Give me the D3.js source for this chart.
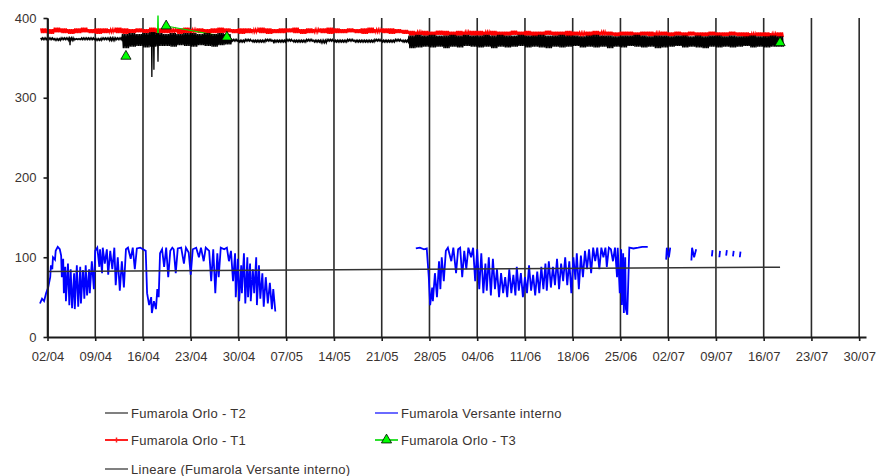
<!DOCTYPE html>
<html>
<head>
<meta charset="utf-8">
<script src="https://cdn.jsdelivr.net/npm/d3@7"></script>
<style>
  body { margin: 0; background: #fff; }
  text { font-family: "Liberation Sans", Arial, sans-serif; }
</style>
</head>
<body>
<div id="chart-area"></div>
<script>
// all days are counted from 02/04
const startDate = Date.UTC(2007, 3, 2);
const weekLabels = ["02/04", "09/04", "16/04", "23/04", "30/04", "07/05", "14/05", "21/05", "28/05",
    "04/06", "11/06", "18/06", "25/06", "02/07", "09/07", "16/07", "23/07", "30/07"];
const yTicks = [0, 100, 200, 300, 400];

// Fumarola Orlo - T1: daily max / min, day -1 .. 107
const t1FirstDay = -1;
const t1Hi = [387,386,388,387,386,387,388,386,387,387, 386,388,387,386,387,386,388,387,387,386,
    387,388,386,387,386,387,388,387,386,387, 387,386,388,387,386,387,387,388,386,387,
    386,387,388,387,386,387,386,387,388,386, 387,387,386,385,
    384,383,384,383,384,384,383,384,383,384, 384,383,384,383,383,384,383,384,383,383,
    384,383,383,384,383,382,383,384,383,383, 382,383,383,382,383,383,382,383,382,383,
    382,383,382,382,383,382,382,383,382,382, 381,382,382,381,382];
const t1Lo = [381,380,382,381,380,381,382,381,380,381, 382,381,380,381,382,381,380,381,381,382,
    380,381,382,381,380,381,381,382,381,380, 381,382,381,380,381,381,382,381,380,381,
    382,381,380,381,381,382,381,380,381,382, 381,380,381,380,
    378,379,378,378,379,378,377,378,379,378, 378,379,378,377,378,379,378,378,377,378,
    379,378,378,377,378,378,377,378,379,378, 377,378,378,377,378,377,378,378,377,378,
    377,378,377,377,378,377,377,378,377,376, 377,377,376,377,376];

// Fumarola Orlo - T2: daily max / min of the black trace, day -1 .. 107
const t2FirstDay = -1;
const t2Hi = [375,375,374,375,375,374,375,375,374,375, 375,375,
    380,381,380,381,382,381,380,381,380,381, 381,380,381,380,381,380,
    373,372,373,372,372,373,372,372,373,372, 372,373,372,372,373,372,372,373,372,372,
    372,373,372,372,373,372,
    378,379,378,379,378,378,379,378,379,378, 378,379,378,379,378,378,379,378,378,379,
    378,378,379,378,378,377,378,379,378,378, 377,378,378,379,378,377,378,378,377,378,
    378,377,378,377,378,378,377,378,377,377, 378,377,377,378,377];
const t2Lo = [373,373,372,373,372,373,373,373,372,373, 372,373,
    362,364,365,363,364,365,365,364,366,365, 364,366,365,364,366,367,
    371,370,371,370,370,371,370,370,371,370, 370,371,370,369,371,370,370,371,370,370,
    370,371,370,370,371,370,
    362,363,364,363,364,362,364,363,365,364, 363,364,362,364,363,364,365,363,364,363,
    362,364,363,364,365,363,364,363,364,362, 364,363,365,364,363,364,362,363,364,365,
    363,364,363,362,364,363,364,363,364,365, 363,364,363,364,364];
// single low readings of T2 that stick out of the band
const t2DipDays = [3.3, 15.3, 15.6, 16.2, 33.2];
const t2DipValues = [366, 326, 335, 345, 368];

// Fumarola Orlo - T3 (null = no reading)
const t3Days = [11.5, null, 17.4, 26.3, null, 107.4];
const t3Values = [352, null, 390, 376, null, 369];
const t3SpikeDays = [16.15, 16.2, 16.25];
const t3SpikeValues = [381, 403, 381];

// Fumarola Versante interno: [day, value], null value = gap
const blueReadings = [
    [-1.1,42],[-0.8,48],[-0.5,45],[-0.2,55],[0.1,62],[0.4,75],[0.5,90],[0.7,85],[0.8,100],[1.1,97],
    [1.2,108],[1.5,113],[1.8,110],[2.0,102],[2.1,75],[2.3,98],[2.4,55],[2.6,88],[2.7,45],[3.0,92],
    [3.2,40],[3.4,85],[3.6,36],[3.9,80],[4.0,35],[4.3,90],[4.5,38],[4.8,88],[4.9,42],[5.2,84],
    [5.4,48],[5.6,90],[5.8,52],[6.1,85],[6.2,55],[6.5,95],[6.8,60],[7.0,108],[7.3,112],[7.6,88],
    [7.7,110],[8.0,80],[8.1,112],[8.4,92],[8.7,110],[8.9,78],[9.2,108],[9.5,85],[9.8,112],[10.0,65],
    [10.3,100],[10.6,58],[10.9,95],[11.2,62],[11.5,110],[11.8,112],[12.2,98],[12.5,112],[12.8,85],[13.1,111],
    [13.6,112],[14.0,110],[14.4,108],[14.6,55],[14.9,40],[15.2,50],[15.3,30],[15.6,45],[15.9,35],[16.1,60],
    [16.3,50],[16.5,105],[16.8,110],[17.1,88],[17.4,112],[17.7,75],[18.0,108],[18.3,112],[18.5,110],[18.8,80],
    [19.1,111],[19.6,112],[20.0,92],[20.3,112],[20.7,106],[21.0,78],[21.3,110],[21.8,112],[22.2,100],[22.5,112],
    [22.9,95],[23.2,112],[23.7,108],[24.0,70],[24.3,110],[24.6,55],[24.9,105],[25.1,75],[25.4,112],[25.9,110],
    [26.3,112],[26.6,95],[26.9,108],[27.2,70],[27.5,105],[27.6,50],[27.9,98],[28.1,45],[28.4,90],[28.5,55],
    [28.8,105],[29.0,42],[29.3,100],[29.4,50],[29.7,92],[29.8,45],[30.1,85],[30.3,55],[30.6,100],[30.7,40],
    [31.0,90],[31.2,48],[31.5,80],[31.7,38],[32.0,75],[32.3,42],[32.6,68],[32.9,35],[33.1,60],[33.4,32],
    [33.5,null],
    [54.0,111],[54.6,112],[55.2,110],[55.6,111],[55.9,75],[56.1,40],[56.4,62],[56.5,45],[56.8,80],[57.1,50],
    [57.4,95],[57.6,60],[57.8,100],[58.1,70],[58.4,108],[58.7,112],[59.2,95],[59.5,112],[59.9,80],[60.2,110],
    [60.5,112],[60.8,75],[61.1,108],[61.4,85],[61.7,112],[62.1,100],[62.4,112],[62.7,70],[63.0,110],[63.3,60],
    [63.6,105],[63.9,55],[64.2,92],[64.4,58],[64.7,100],[65.0,52],[65.3,98],[65.6,60],[65.9,85],[66.2,50],
    [66.5,80],[66.8,55],[67.1,75],[67.4,50],[67.7,85],[68.0,55],[68.3,78],[68.6,52],[68.8,88],[69.1,58],
    [69.4,80],[69.7,50],[70.0,75],[70.3,55],[70.6,90],[70.9,58],[71.2,78],[71.5,52],[71.8,82],[72.1,55],
    [72.4,88],[72.7,60],[73.0,92],[73.2,58],[73.5,95],[73.8,62],[74.1,88],[74.4,65],[74.7,98],[75.0,60],
    [75.3,92],[75.6,70],[75.9,100],[76.2,65],[76.5,95],[76.8,55],[77.1,100],[77.4,72],[77.6,105],[77.9,60],
    [78.2,102],[78.5,75],[78.8,108],[79.1,85],[79.4,110],[79.7,80],[80.0,112],[80.3,95],[80.6,112],[80.9,85],
    [81.2,112],[81.5,100],[81.8,112],[82.0,88],[82.3,112],[82.6,110],[82.9,95],[83.2,112],[83.5,75],[83.6,112],
    [83.9,55],[84.1,110],[84.2,40],[84.4,105],[84.5,30],[84.7,100],[84.8,35],[85.0,28],[85.3,112],[85.9,111],
    [86.6,112],[87.2,113],[88.0,113],
    [88.1,null],
    [90.7,97],[90.8,112],[91.1,100],[91.3,112],
    [91.4,null],
    [94.4,96],[94.5,112],[94.8,100],[95.1,110],
    [95.2,null],
    [97.4,101],[97.5,109],[97.6,null],[98.5,100],[98.6,108],[98.7,null],[99.5,102],[99.6,109],[99.7,null],
    [100.5,101],[100.6,108],[100.7,null],[101.5,100],[101.6,107]
];

// Lineare (Fumarola Versante interno)
const trendDays = [0, 107.4];
const trendValues = [82, 87.5];

const config = {
    width: 879,
    height: 476,
    plotLeft: 47.5,
    plotRight: 866,
    plotTop: 18,
    plotBottom: 337
};

const dayToDate = d => new Date(startDate + d * 864e5);

const svg = d3.select('#chart-area')
    .append('svg')
    .attr('width', config.width)
    .attr('height', config.height)
    .style('background', '#fff');

const xScale = d3.scaleUtc()
    .domain([dayToDate(0), dayToDate(120)])
    .range([config.plotLeft, config.plotRight]);

const yScale = d3.scaleLinear()
    .domain([0, 400])
    .range([config.plotBottom, config.plotTop]);

const weekDates = weekLabels.map((lbl, i) => dayToDate(i * 7));

// vertical grid lines
svg.append('g')
    .selectAll('line')
    .data(weekDates)
    .enter().append('line')
    .attr('x1', d => xScale(d))
    .attr('x2', d => xScale(d))
    .attr('y1', yScale(400))
    .attr('y2', yScale(0))
    .attr('stroke', '#2a2a2a')
    .attr('stroke-width', 1.6);

// zig-zag through the daily max/min so the trace fills its band
function bandPoints(firstDay, hi, lo) {
    const pts = [];
    const n = Math.min(hi.length, lo.length);
    for (let i = 0; i < n; i++) {
        const d = firstDay + i;
        for (let k = 0; k < 8; k += 2) {
            pts.push([d + k / 8, hi[i]], [d + (k + 1) / 8, lo[i]]);
        }
    }
    return pts;
}

const line = d3.line()
    .defined(d => d[0] != null && d[1] != null)
    .x(d => xScale(dayToDate(d[0])))
    .y(d => yScale(d[1]));

const plot = svg.append('g');

// T1 red
plot.append('path')
    .attr('d', line(bandPoints(t1FirstDay, t1Hi, t1Lo)))
    .attr('fill', 'none')
    .attr('stroke', '#ff0000')
    .attr('stroke-width', 1.4);

// T3 green line (under T2)
const t3Points = t3Days.map((d, i) => [d, t3Values[i]]);
plot.append('path')
    .attr('d', line(t3Points))
    .attr('fill', 'none')
    .attr('stroke', '#00e000')
    .attr('stroke-width', 1.2);
plot.append('path')
    .attr('d', line(t3SpikeDays.map((d, i) => [d, t3SpikeValues[i]])))
    .attr('fill', 'none')
    .attr('stroke', '#00e000')
    .attr('stroke-width', 1.4);

// T2 black
plot.append('path')
    .attr('d', line(bandPoints(t2FirstDay, t2Hi, t2Lo)))
    .attr('fill', 'none')
    .attr('stroke', '#000')
    .attr('stroke-width', 1.4);

// T2 single low readings, dropped from that day's high
plot.selectAll('.t2dip')
    .data(t2DipDays.map((d, i) => [d, t2DipValues[i]]))
    .enter().append('path')
    .attr('class', 't2dip')
    .attr('d', d => {
        const base = t2Hi[Math.floor(d[0]) - t2FirstDay];
        return line([[d[0] - 0.06, base], d, [d[0] + 0.06, base]]);
    })
    .attr('fill', 'none')
    .attr('stroke', '#000')
    .attr('stroke-width', 1.3);

// Versante interno blue
plot.append('path')
    .attr('d', line(blueReadings))
    .attr('fill', 'none')
    .attr('stroke', '#0000ff')
    .attr('stroke-width', 1.8);

// linear trend
plot.append('path')
    .attr('d', line(trendDays.map((d, i) => [d, trendValues[i]])))
    .attr('fill', 'none')
    .attr('stroke', '#333')
    .attr('stroke-width', 1.5);

// T3 markers
const triangle = d3.symbol().type(d3.symbolTriangle).size(45);
plot.selectAll('.t3mark')
    .data(t3Points.filter(d => d[0] != null && d[1] != null))
    .enter().append('path')
    .attr('class', 't3mark')
    .attr('d', triangle)
    .attr('transform', d => `translate(${xScale(dayToDate(d[0]))}, ${yScale(d[1])})`)
    .attr('fill', '#00ff00')
    .attr('stroke', '#000')
    .attr('stroke-width', 0.8);

// axes
const xAxisGroup = svg.append('g')
    .attr('transform', `translate(0, ${config.plotBottom})`)
    .call(d3.axisBottom(xScale)
        .tickValues(weekDates)
        .tickFormat((d, i) => weekLabels[i])
        .tickSize(4)
        .tickSizeOuter(0)
        .tickPadding(11));

const yAxisGroup = svg.append('g')
    .attr('transform', `translate(${config.plotLeft}, 0)`)
    .call(d3.axisLeft(yScale)
        .tickValues(yTicks)
        .tickSize(4)
        .tickSizeOuter(0)
        .tickPadding(7));

[xAxisGroup, yAxisGroup].forEach(g => {
    g.selectAll('.domain').attr('stroke', '#1a1a1a').attr('stroke-width', 1.8);
    g.selectAll('.tick line').attr('stroke', '#1a1a1a').attr('stroke-width', 1.6);
    g.selectAll('text')
        .attr('font-family', '"Liberation Sans", Arial, sans-serif')
        .attr('font-size', '13px')
        .attr('fill', '#3a3330');
});

// legend
const legendItems = [
    { name: "Fumarola Orlo - T2", x: 105, y: 413, color: '#808080', mark: null },
    { name: "Fumarola Versante interno", x: 375, y: 413, color: '#6a6aff', mark: null },
    { name: "Fumarola Orlo - T1", x: 105, y: 440, color: '#ff2020', mark: 'plus' },
    { name: "Fumarola Orlo - T3", x: 375, y: 440, color: '#30e030', mark: 'triangle' },
    { name: "Lineare (Fumarola Versante interno)", x: 105, y: 469, color: '#808080', mark: null }
];

const legend = svg.append('g');
legendItems.forEach(item => {
    const g = legend.append('g').attr('transform', `translate(${item.x}, ${item.y})`);
    g.append('line')
        .attr('x1', 0).attr('x2', 23)
        .attr('stroke', item.color)
        .attr('stroke-width', 2);
    if (item.mark === 'plus') {
        g.append('line')
            .attr('x1', 11.5).attr('x2', 11.5)
            .attr('y1', -2.5).attr('y2', 2.5)
            .attr('stroke', item.color)
            .attr('stroke-width', 1.5);
    }
    if (item.mark === 'triangle') {
        g.append('path')
            .attr('d', triangle)
            .attr('transform', 'translate(11.5, 0)')
            .attr('fill', '#00ff00')
            .attr('stroke', '#000')
            .attr('stroke-width', 0.8);
    }
    g.append('text')
        .attr('x', 26)
        .attr('y', 4.5)
        .attr('font-size', '13px')
        .attr('letter-spacing', '0.3px')
        .attr('fill', '#3a3330')
        .text(item.name);
});
</script>
</body>
</html>
